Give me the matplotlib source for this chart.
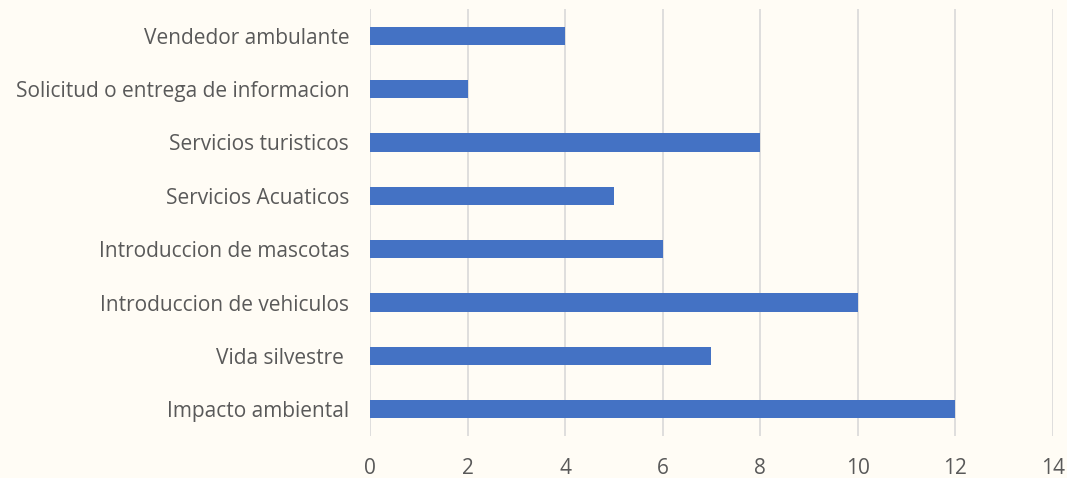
import matplotlib
matplotlib.use("Agg")
import matplotlib.pyplot as plt

categories = ["Impacto ambiental", "Vida silvestre ", "Introduccion de vehiculos",
              "Introduccion de mascotas", "Servicios Acuaticos", "Servicios turisticos",
              "Solicitud o entrega de informacion", "Vendedor ambulante"]
values = [12, 7, 10, 6, 5, 8, 2, 4]
xticks = [0, 2, 4, 6, 8, 10, 12, 14]

plt.rcParams['font.family'] = ['Open Sans', 'DejaVu Sans']
bg = "#FFFCF5"
fig = plt.figure(figsize=(10.67, 4.78), dpi=100, facecolor=bg)
ax = fig.add_axes([0.3468, 0.088, 0.64, 0.893], facecolor=bg)

ax.barh(range(len(categories)), values, height=0.34, color="#4472C4", zorder=3)
ax.set_xlim(0, 14)
ax.set_ylim(-0.5, len(categories) - 0.5)
ax.set_xticks(xticks)
ax.set_yticks(range(len(categories)))
ax.set_yticklabels(categories)
ax.grid(axis='x', color="#D9D9D9", linewidth=1.2, zorder=0)
for s in ax.spines.values():
    s.set_visible(False)
ax.tick_params(axis='both', length=0, labelsize=15, labelcolor="#595959")
ax.tick_params(axis='y', pad=15)
ax.tick_params(axis='x', pad=16)
fig.savefig("out.png", dpi=100, facecolor=bg)
